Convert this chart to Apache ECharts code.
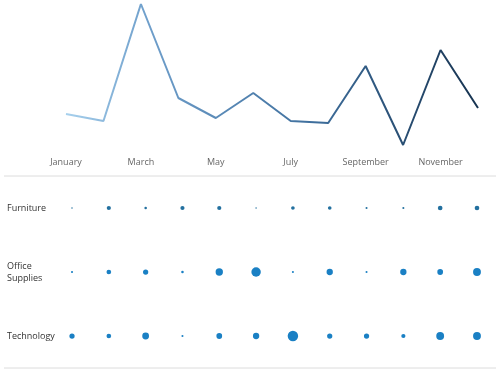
<!DOCTYPE html>
<html><head><meta charset="utf-8">
<script src="https://cdn.jsdelivr.net/npm/echarts@6/dist/echarts.min.js"></script>
<style>html,body{margin:0;padding:0;background:#fff}#c{width:498px;height:373px}</style>
</head><body><div id="c"></div>
<script>
var months = ['January','February','March','April','May','June','July','August','September','October','November','December'];
var total = [46, 39, 156, 62, 42, 67, 39, 37, 94, 15, 110, 52];
var categories = ['Furniture', 'Office Supplies', 'Technology'];
var furniture = [2, 16, 6, 16, 16, 2, 12, 12, 4, 4, 20, 20];
var officeSupplies = [4, 20, 25, 6, 49, 81, 4, 36, 4, 36, 30, 56];
var technology = [25, 20, 42, 4, 30, 36, 100, 25, 25, 16, 56, 56];

var rows = [furniture, officeSupplies, technology];
var dots = [];
rows.forEach(function(r, ri){ r.forEach(function(v, mi){ dots.push([mi, ri, v]); }); });

var chart = echarts.init(document.getElementById('c'));
var font = '"Open Sans", "Noto Sans", sans-serif';
chart.setOption({
  animation: false,
  textStyle: {fontFamily: font},
  grid: [
    {left: 66, right: 20, top: 0, height: 160},
    {left: 53.6, right: 2.6, top: 176, height: 192}
  ],
  xAxis: [
    {type: 'category', gridIndex: 0, data: months, boundaryGap: false,
     axisLine: {show: false}, axisTick: {show: false}, splitLine: {show: false},
     axisLabel: {interval: 1, color: '#666', fontSize: 9, margin: -2, fontFamily: font}},
    {type: 'category', gridIndex: 1, data: months, show: false}
  ],
  yAxis: [
    {type: 'value', gridIndex: 0, min: 0, max: 160, show: false},
    {type: 'category', gridIndex: 1, data: categories, inverse: true,
     axisLine: {show: false}, axisTick: {show: false}, splitLine: {show: false},
     axisLabel: {align: 'left', margin: 46.6, color: '#333', fontSize: 9, lineHeight: 12, fontFamily: font,
       formatter: function(v){ return v === 'Office Supplies' ? 'Office\nSupplies' : v; }}}
  ],
  series: [
    {type: 'line', xAxisIndex: 0, yAxisIndex: 0, data: total, symbol: 'none',
     lineStyle: {width: 2, color: new echarts.graphic.LinearGradient(0, 0, 1, 0, [
       {offset: 0, color: '#a9d2ee'},
       {offset: 0.2, color: '#6f9fcb'},
       {offset: 0.6, color: '#3f6f9d'},
       {offset: 1, color: '#16324f'}
     ])}},
    {type: 'scatter', xAxisIndex: 1, yAxisIndex: 1, data: dots,
     symbolSize: function(d){ return Math.sqrt(d[2]) * 1.05; },
     itemStyle: {opacity: 1, color: function(p){ return p.data[1] === 0 ? '#23709f' : '#1a80c4'; }}}
  ],
  graphic: [
    {type: 'line', shape: {x1: 4, y1: 176, x2: 496, y2: 176}, style: {stroke: '#dcdcdc', lineWidth: 1}, silent: true},
    {type: 'line', shape: {x1: 4, y1: 368, x2: 496, y2: 368}, style: {stroke: '#dcdcdc', lineWidth: 1}, silent: true}
  ]
});
</script></body></html>
